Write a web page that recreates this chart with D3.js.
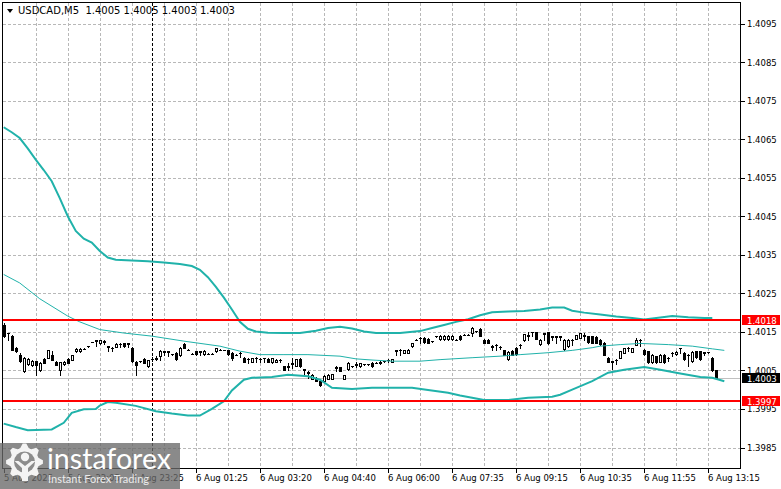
<!DOCTYPE html>
<html>
<head>
<meta charset="utf-8">
<script src="https://cdn.jsdelivr.net/npm/d3@7"></script>
<style>
html, body { margin: 0; padding: 0; background: #fff; }
svg { display: block; font-family: "DejaVu Sans", sans-serif; }
</style>
</head>
<body>
<div id="chart"></div>
<script>
// chart header
const symbol = "USDCAD";
const timeframe = "M5";

// M5 candles, one entry per bar (bar 0 is the leftmost one)
const opens = [1.40168,1.40147,1.40139,1.40109,1.40091,1.40048,1.40066,1.40063,1.40074,1.40050,
  1.40080,1.40083,1.40089,1.40072,1.40050,1.40067,1.40080,1.40078,1.40100,1.40100,
  1.40106,1.40113,1.40124,1.40128,1.40120,1.40126,1.40113,1.40108,1.40112,1.40119,
  1.40120,1.40120,1.40109,1.40072,1.40074,1.40080,1.40061,1.40080,1.40080,1.40088,
  1.40100,1.40100,1.40092,1.40096,1.40089,1.40119,1.40104,1.40093,1.40100,1.40100,
  1.40092,1.40093,1.40093,1.40100,1.40104,1.40103,1.40103,1.40096,1.40091,1.40096,
  1.40083,1.40080,1.40072,1.40083,1.40079,1.40082,1.40080,1.40071,1.40073,1.40077,
  1.40061,1.40060,1.40066,1.40062,1.40079,1.40053,1.40046,1.40028,1.40031,1.40022,
  1.40022,1.40029,1.40029,1.40058,1.40058,1.40029,1.40053,1.40061,1.40066,1.40061,
  1.40066,1.40066,1.40070,1.40070,1.40070,1.40074,1.40078,1.40072,1.40100,1.40104,
  1.40096,1.40095,1.40113,1.40130,1.40135,1.40135,1.40132,1.40126,1.40139,1.40131,
  1.40131,1.40131,1.40131,1.40130,1.40140,1.40143,1.40143,1.40148,1.40152,1.40158,
  1.40130,1.40130,1.40112,1.40117,1.40110,1.40102,1.40080,1.40101,1.40108,1.40117,
  1.40128,1.40140,1.40150,1.40150,1.40118,1.40146,1.40150,1.40139,1.40139,1.40139,
  1.40105,1.40114,1.40130,1.40132,1.40135,1.40140,1.40139,1.40139,1.40138,1.40130,
  1.40122,1.40083,1.40073,1.40078,1.40083,1.40096,1.40109,1.40098,1.40117,1.40130,
  1.40104,1.40100,1.40071,1.40087,1.40072,1.40091,1.40083,1.40096,1.40092,1.40108,
  1.40096,1.40091,1.40074,1.40100,1.40100,1.40097,1.40097,1.40083,1.40050];
const highs = [1.40172,1.40148,1.40141,1.40110,1.40094,1.40085,1.40082,1.40076,1.40075,1.40072,
  1.40083,1.40104,1.40100,1.40074,1.40073,1.40074,1.40081,1.40090,1.40108,1.40107,
  1.40107,1.40114,1.40125,1.40129,1.40128,1.40130,1.40114,1.40110,1.40120,1.40121,
  1.40121,1.40121,1.40111,1.40074,1.40075,1.40082,1.40078,1.40084,1.40087,1.40104,
  1.40101,1.40101,1.40093,1.40097,1.40110,1.40120,1.40105,1.40094,1.40101,1.40101,
  1.40102,1.40094,1.40094,1.40109,1.40105,1.40104,1.40104,1.40097,1.40092,1.40097,
  1.40085,1.40081,1.40083,1.40084,1.40083,1.40083,1.40081,1.40083,1.40079,1.40079,
  1.40062,1.40070,1.40083,1.40080,1.40081,1.40054,1.40048,1.40040,1.40032,1.40023,
  1.40037,1.40040,1.40040,1.40061,1.40059,1.40039,1.40071,1.40062,1.40071,1.40070,
  1.40067,1.40067,1.40071,1.40071,1.40074,1.40075,1.40079,1.40080,1.40104,1.40105,
  1.40104,1.40105,1.40122,1.40131,1.40136,1.40136,1.40133,1.40127,1.40140,1.40141,
  1.40141,1.40141,1.40141,1.40131,1.40141,1.40144,1.40144,1.40163,1.40153,1.40159,
  1.40131,1.40131,1.40115,1.40118,1.40113,1.40103,1.40100,1.40102,1.40110,1.40118,
  1.40145,1.40150,1.40151,1.40151,1.40131,1.40147,1.40151,1.40140,1.40140,1.40140,
  1.40131,1.40131,1.40131,1.40143,1.40148,1.40147,1.40140,1.40140,1.40140,1.40131,
  1.40123,1.40084,1.40075,1.40079,1.40101,1.40109,1.40110,1.40109,1.40134,1.40131,
  1.40105,1.40101,1.40092,1.40088,1.40092,1.40092,1.40084,1.40097,1.40100,1.40109,
  1.40097,1.40092,1.40100,1.40101,1.40101,1.40098,1.40098,1.40086,1.40050];
const lows = [1.40136,1.40128,1.40102,1.40098,1.40072,1.40046,1.40064,1.40061,1.40037,1.40048,
  1.40068,1.40081,1.40076,1.40063,1.40039,1.40065,1.40068,1.40076,1.40098,1.40098,
  1.40105,1.40112,1.40123,1.40113,1.40118,1.40118,1.40100,1.40100,1.40111,1.40112,
  1.40112,1.40111,1.40072,1.40037,1.40073,1.40068,1.40060,1.40074,1.40077,1.40078,
  1.40091,1.40087,1.40091,1.40078,1.40087,1.40108,1.40103,1.40092,1.40090,1.40091,
  1.40091,1.40092,1.40092,1.40099,1.40103,1.40102,1.40090,1.40078,1.40090,1.40086,
  1.40072,1.40070,1.40071,1.40072,1.40072,1.40072,1.40072,1.40069,1.40072,1.40072,
  1.40051,1.40051,1.40057,1.40061,1.40060,1.40040,1.40031,1.40027,1.40022,1.40010,
  1.40020,1.40028,1.40028,1.40048,1.40048,1.40028,1.40052,1.40060,1.40060,1.40060,
  1.40065,1.40065,1.40060,1.40069,1.40066,1.40073,1.40072,1.40071,1.40091,1.40091,
  1.40095,1.40094,1.40112,1.40129,1.40122,1.40122,1.40121,1.40125,1.40138,1.40130,
  1.40130,1.40130,1.40130,1.40129,1.40130,1.40142,1.40142,1.40140,1.40151,1.40139,
  1.40120,1.40120,1.40103,1.40103,1.40106,1.40089,1.40078,1.40089,1.40090,1.40109,
  1.40126,1.40130,1.40139,1.40131,1.40117,1.40130,1.40118,1.40130,1.40122,1.40130,
  1.40104,1.40112,1.40117,1.40131,1.40134,1.40130,1.40122,1.40120,1.40120,1.40117,
  1.40089,1.40071,1.40053,1.40066,1.40082,1.40095,1.40100,1.40097,1.40116,1.40113,
  1.40091,1.40070,1.40070,1.40070,1.40071,1.40070,1.40074,1.40087,1.40091,1.40096,
  1.40078,1.40061,1.40073,1.40083,1.40078,1.40091,1.40096,1.40048,1.40030];
const closes = [1.40139,1.40146,1.40104,1.40100,1.40074,1.40083,1.40080,1.40075,1.40063,1.40070,
  1.40070,1.40102,1.40078,1.40064,1.40072,1.40073,1.40070,1.40089,1.40106,1.40106,
  1.40106,1.40113,1.40124,1.40127,1.40128,1.40124,1.40112,1.40107,1.40119,1.40118,
  1.40114,1.40119,1.40074,1.40063,1.40074,1.40070,1.40078,1.40079,1.40082,1.40100,
  1.40099,1.40099,1.40092,1.40080,1.40108,1.40109,1.40104,1.40093,1.40092,1.40099,
  1.40101,1.40093,1.40093,1.40108,1.40104,1.40103,1.40092,1.40083,1.40091,1.40095,
  1.40072,1.40079,1.40083,1.40082,1.40080,1.40081,1.40073,1.40082,1.40078,1.40076,
  1.40052,1.40061,1.40070,1.40079,1.40062,1.40052,1.40044,1.40039,1.40023,1.40012,
  1.40036,1.40039,1.40040,1.40056,1.40049,1.40038,1.40070,1.40061,1.40065,1.40069,
  1.40066,1.40066,1.40061,1.40070,1.40071,1.40074,1.40077,1.40079,1.40102,1.40103,
  1.40103,1.40104,1.40121,1.40130,1.40134,1.40123,1.40122,1.40126,1.40139,1.40140,
  1.40140,1.40140,1.40140,1.40130,1.40131,1.40143,1.40143,1.40160,1.40152,1.40140,
  1.40121,1.40121,1.40114,1.40116,1.40112,1.40090,1.40098,1.40090,1.40092,1.40116,
  1.40144,1.40141,1.40149,1.40132,1.40130,1.40145,1.40120,1.40138,1.40138,1.40138,
  1.40129,1.40130,1.40129,1.40142,1.40147,1.40141,1.40123,1.40121,1.40122,1.40118,
  1.40091,1.40072,1.40074,1.40077,1.40100,1.40108,1.40108,1.40108,1.40130,1.40129,
  1.40092,1.40071,1.40091,1.40071,1.40091,1.40071,1.40082,1.40095,1.40099,1.40107,
  1.40079,1.40090,1.40099,1.40084,1.40079,1.40096,1.40097,1.40050,1.40030];

// Bollinger bands at these bar numbers
const upperIdx = [0,2,4,6,8,10,12,14,16,18,20,22,24,26,28,32,36,40,44,47,49,51,53,55,57,59,61,63,66,70,
  74,78,81,84,87,90,93,99,104,107,110,113,116,119,122,126,130,134,137,140,142,145,149,153,157,160,163,167,171,175,177];
const upperBand = [1.40681,1.40668,1.40653,1.40626,1.40597,1.40570,1.40541,1.40497,1.40450,1.40412,
  1.40392,1.40382,1.40360,1.40343,1.40337,1.40335,1.40333,1.40330,1.40326,1.40321,
  1.40311,1.40292,1.40267,1.40239,1.40208,1.40176,1.40158,1.40151,1.40148,1.40147,
  1.40147,1.40153,1.40160,1.40163,1.40159,1.40151,1.40147,1.40147,1.40152,1.40160,
  1.40168,1.40176,1.40183,1.40193,1.40201,1.40203,1.40204,1.40208,1.40213,1.40213,
  1.40205,1.40200,1.40195,1.40190,1.40186,1.40182,1.40186,1.40191,1.40188,1.40186,1.40186];
const middleIdx = [0,4,9,16,19,24,30,37,45,54,59,64,70,76,84,88,92,97,104,109,
  117,124,129,136,142,147,149,154,159,166,172,177,180];
const middleBand = [1.40299,1.40277,1.40236,1.40191,1.40176,1.40156,1.40147,1.40139,1.40126,1.40113,
  1.40100,1.40091,1.40091,1.40091,1.40087,1.40080,1.40077,1.40074,1.40074,1.40078,
  1.40083,1.40087,1.40091,1.40096,1.40102,1.40109,1.40113,1.40117,1.40120,1.40117,
  1.40113,1.40106,1.40102];
const lowerIdx = [0,3,6,12,15,17,20,23,24,26,28,33,38,42,46,49,52,55,57,60,
  62,67,71,76,79,82,87,92,102,106,111,114,117,120,126,131,137,139,142,147,
  151,155,160,164,169,174,177,180];
const lowerBand = [1.39912,1.39903,1.39895,1.39897,1.39914,1.39940,1.39949,1.39950,1.39959,1.39968,
  1.39966,1.39958,1.39944,1.39938,1.39933,1.39933,1.39950,1.39970,1.39998,1.40026,
  1.40031,1.40033,1.40039,1.40035,1.40026,1.40005,1.40002,1.40005,1.40005,1.39999,
  1.39992,1.39985,1.39979,1.39973,1.39973,1.39979,1.39982,1.39987,1.40000,1.40022,
  1.40044,1.40052,1.40059,1.40052,1.40042,1.40033,1.40031,1.40022];

// axis ticks
const timeTickBars = [0,16,32,48,64,80,96,112,128,144,160,176];
const timeLabels = ["5 Aug 2025","5 Aug 22:05","5 Aug 23:25","6 Aug 01:25","6 Aug 03:20","6 Aug 04:40",
  "6 Aug 06:00","6 Aug 07:35","6 Aug 09:15","6 Aug 10:35","6 Aug 11:55","6 Aug 13:15"];
const priceTicks = [1.4095,1.4085,1.4075,1.4065,1.4055,1.4045,1.4035,1.4025,1.4015,1.4005,1.3995,1.3985];

// horizontal levels and the vertical marker
const levels = [1.4018, 1.3997];
const markerBar = 37;

const width = 781, height = 489;
const plotL = 2.5, plotT = 2.5, plotR = 740.5, plotB = 468.5;
const bandColour = "#20b2aa";
const labelFont = "8.5px";

const x = d3.scaleLinear().domain([0, 176]).range([3.7, 708.3]);
const y = d3.scaleLinear().domain([1.3985, 1.4065]).range([447.5, 139.2]);

const svg = d3.select("#chart").append("svg")
    .attr("width", width)
    .attr("height", height);

svg.append("defs").append("clipPath").attr("id", "plot-clip")
  .append("rect")
    .attr("x", plotL + 0.5).attr("y", plotT + 0.5)
    .attr("width", plotR - plotL - 1).attr("height", plotB - plotT - 1);

const plot = svg.append("g").attr("clip-path", "url(#plot-clip)");

// grid, dashed grey
const gridBars = d3.range(8, 177, 8);
plot.selectAll(".vgrid").data(gridBars).enter().append("line")
    .attr("x1", d => Math.round(x(d)) + 0.5).attr("x2", d => Math.round(x(d)) + 0.5)
    .attr("y1", plotT).attr("y2", plotB)
    .attr("stroke", "#b8b8b8").attr("stroke-dasharray", "3,2")
    .attr("shape-rendering", "crispEdges");

plot.selectAll(".hgrid").data(priceTicks).enter().append("line")
    .attr("x1", plotL).attr("x2", plotR)
    .attr("y1", d => Math.round(y(d)) + 0.5).attr("y2", d => Math.round(y(d)) + 0.5)
    .attr("stroke", "#b8b8b8").attr("stroke-dasharray", "3,2")
    .attr("shape-rendering", "crispEdges");

// bid line at the last close
const lastBar = closes.length - 1;
const bid = closes[lastBar];
plot.append("line")
    .attr("x1", plotL).attr("x2", plotR)
    .attr("y1", Math.round(y(bid)) + 0.5).attr("y2", Math.round(y(bid)) + 0.5)
    .attr("stroke", "#c0c0c0")
    .attr("shape-rendering", "crispEdges");

// vertical dashed marker
plot.append("line")
    .attr("x1", Math.round(x(markerBar)) + 0.5).attr("x2", Math.round(x(markerBar)) + 0.5)
    .attr("y1", plotT).attr("y2", plotB)
    .attr("stroke", "#000").attr("stroke-dasharray", "3,2")
    .attr("shape-rendering", "crispEdges");

// candles
const bars = d3.range(opens.length).map(i => ({
    i: i, o: opens[i], h: highs[i], l: lows[i], c: closes[i]
}));

const candle = plot.selectAll(".candle").data(bars).enter().append("g")
    .attr("shape-rendering", "crispEdges");

candle.append("line")
    .attr("x1", d => Math.round(x(d.i)) + 0.5).attr("x2", d => Math.round(x(d.i)) + 0.5)
    .attr("y1", d => Math.round(y(d.h))).attr("y2", d => Math.round(y(d.l)) + 1)
    .attr("stroke", "#000");

candle.each(function (d) {
    const g = d3.select(this);
    const cx = Math.round(x(d.i));
    const top = Math.round(y(Math.max(d.o, d.c)));
    const bot = Math.round(y(Math.min(d.o, d.c)));
    if (bot - top < 1) {
        g.append("line")
            .attr("x1", cx - 1).attr("x2", cx + 2)
            .attr("y1", top + 0.5).attr("y2", top + 0.5)
            .attr("stroke", "#000");
    } else {
        g.append("rect")
            .attr("x", cx - 0.5).attr("y", top + 0.5)
            .attr("width", 2).attr("height", bot - top)
            .attr("fill", d.c >= d.o ? "#fff" : "#000")
            .attr("stroke", "#000");
    }
});

// bollinger bands
const bandLine = d3.line().x(d => x(d[0])).y(d => y(d[1]));

plot.append("path")
    .attr("d", bandLine(d3.zip(middleIdx, middleBand)))
    .attr("fill", "none").attr("stroke", bandColour).attr("stroke-width", 1);
plot.append("path")
    .attr("d", bandLine(d3.zip(upperIdx, upperBand)))
    .attr("fill", "none").attr("stroke", bandColour).attr("stroke-width", 2);
plot.append("path")
    .attr("d", bandLine(d3.zip(lowerIdx, lowerBand)))
    .attr("fill", "none").attr("stroke", bandColour).attr("stroke-width", 2);

// red horizontal levels
plot.selectAll(".level").data(levels).enter().append("line")
    .attr("x1", plotL).attr("x2", plotR)
    .attr("y1", d => Math.round(y(d))).attr("y2", d => Math.round(y(d)))
    .attr("stroke", "#ff0000").attr("stroke-width", 2)
    .attr("shape-rendering", "crispEdges");

// frame
svg.append("rect")
    .attr("x", plotL).attr("y", plotT)
    .attr("width", plotR - plotL).attr("height", plotB - plotT)
    .attr("fill", "none").attr("stroke", "#000")
    .attr("shape-rendering", "crispEdges");

// price axis
const priceAxis = svg.append("g");
priceAxis.selectAll(".ptick").data(priceTicks).enter().append("line")
    .attr("x1", plotR).attr("x2", plotR + 4)
    .attr("y1", d => Math.round(y(d)) + 0.5).attr("y2", d => Math.round(y(d)) + 0.5)
    .attr("stroke", "#000").attr("shape-rendering", "crispEdges");
priceAxis.selectAll(".plabel").data(priceTicks).enter().append("text")
    .attr("x", 747).attr("y", d => y(d) + 3.5)
    .attr("font-size", labelFont).attr("fill", "#000")
    .text(d => d.toFixed(4));

// coloured price tags
const tags = levels.map(v => ({ v: v, bg: "#ff0000" })).concat([{ v: bid, bg: "#000" }]);
const tag = svg.selectAll(".tag").data(tags).enter().append("g");
tag.append("rect")
    .attr("x", 742).attr("y", d => Math.round(y(d.v)) - 5)
    .attr("width", 38).attr("height", 10)
    .attr("fill", d => d.bg);
tag.append("text")
    .attr("x", 747).attr("y", d => Math.round(y(d.v)) + 3.5)
    .attr("font-size", labelFont).attr("fill", "#fff")
    .text(d => d.v.toFixed(4));

// time axis
const timeAxis = svg.append("g");
timeAxis.selectAll(".ttick").data(timeTickBars).enter().append("line")
    .attr("x1", d => Math.round(x(d)) + 0.5).attr("x2", d => Math.round(x(d)) + 0.5)
    .attr("y1", plotB).attr("y2", plotB + 4)
    .attr("stroke", "#000").attr("shape-rendering", "crispEdges");
timeAxis.selectAll(".tlabel").data(timeTickBars).enter().append("text")
    .attr("x", d => Math.round(x(d)))
    .attr("y", 481)
    .attr("font-size", labelFont).attr("fill", "#000")
    .text((d, k) => timeLabels[k]);

// header
svg.append("path").attr("d", "M7,9L13,9L10,13Z").attr("fill", "#000");
svg.append("text")
    .attr("x", 18).attr("y", 14)
    .attr("font-size", "10px").attr("fill", "#000")
    .style("white-space", "pre")
    .text(`${symbol},${timeframe}  ${opens[lastBar].toFixed(4)} ${highs[lastBar].toFixed(4)} ${lows[lastBar].toFixed(4)} ${closes[lastBar].toFixed(4)}`);

// watermark
const logo = svg.append("g");
logo.append("rect")
    .attr("x", 0).attr("y", 443).attr("width", 180).attr("height", 46)
    .attr("fill", "rgb(105,105,105)").attr("fill-opacity", 0.78);

const gearCx = 24.5, gearCy = 462;
const teeth = 8;
const gearPts = [];
for (let k = 0; k < teeth * 4; k++) {
    const a = (k / (teeth * 4)) * 2 * Math.PI - Math.PI / 2 - Math.PI / 32;
    const r = (k % 4 === 0 || k % 4 === 1) ? 18.5 : 14.5;
    gearPts.push([gearCx + r * Math.cos(a), gearCy + r * Math.sin(a)]);
}
const gearWhite = "#f4f4f4";
logo.append("path")
    .attr("d", d3.line().curve(d3.curveLinearClosed)(gearPts))
    .attr("fill", gearWhite);
logo.append("circle").attr("cx", gearCx).attr("cy", gearCy).attr("r", 10.5).attr("fill", "#8c8c8c");
// figure inside the gear: head and a Y-shaped body
logo.append("circle").attr("cx", gearCx + 0.5).attr("cy", gearCy - 5).attr("r", 4.2).attr("fill", gearWhite);
logo.append("path")
    .attr("d", `M${gearCx - 10},${gearCy - 1}L${gearCx - 6},${gearCy - 1}L${gearCx + 0.5},${gearCy + 4}`
        + `L${gearCx + 7},${gearCy - 1}L${gearCx + 11},${gearCy - 1}L${gearCx + 3.5},${gearCy + 6}`
        + `L${gearCx + 3.5},${gearCy + 19}L${gearCx - 2.5},${gearCy + 19}L${gearCx - 2.5},${gearCy + 6}Z`)
    .attr("fill", gearWhite);

logo.append("text")
    .attr("x", 47).attr("y", 469)
    .attr("font-family", "Lato, sans-serif").attr("font-size", "29px")
    .attr("fill", "#fff")
    .attr("textLength", 124).attr("lengthAdjust", "spacingAndGlyphs")
    .text("instaforex");
logo.append("text")
    .attr("x", 48).attr("y", 483)
    .attr("font-family", "Lato, sans-serif").attr("font-size", "12px")
    .attr("fill", "#ececec")
    .attr("textLength", 101).attr("lengthAdjust", "spacingAndGlyphs")
    .text("Instant Forex Trading");
</script>
</body>
</html>
